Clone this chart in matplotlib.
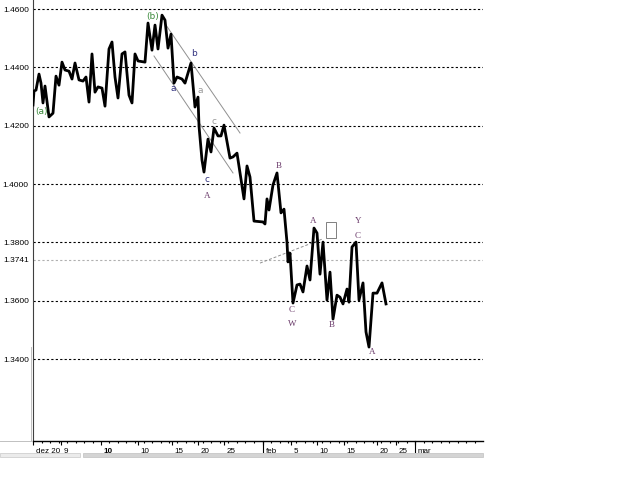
import numpy as np
import matplotlib
matplotlib.use('Agg')
import matplotlib.pyplot as plt
from matplotlib import transforms
from matplotlib.ticker import MultipleLocator
from matplotlib.patches import Rectangle

# price trace (x = bar position, y = price)
px = [0, 1, 3, 6, 8, 10, 12, 16, 20, 23,
      26, 29, 32, 36, 39, 42, 46, 50, 53, 56,
      59, 62, 65, 69, 72, 76, 79, 82, 85, 89,
      92, 96, 99, 102, 105, 112, 115, 119, 122, 125,
      129, 132, 135, 138, 141, 144, 149, 152, 158, 162,
      165, 166, 169, 171, 175, 178, 181, 185, 188, 191,
      197, 200, 204, 211, 214, 217, 221, 230, 232, 234,
      236, 240, 244, 248, 251, 254, 255, 257, 260, 264,
      267, 270, 274, 277, 281, 284, 287, 290, 294, 297,
      300, 304, 307, 310, 314, 316, 319, 323, 326, 330,
      333, 336, 340, 344, 349, 353]
price = [1.4271, 1.4319, 1.4322, 1.4377, 1.4346, 1.4278, 1.4336, 1.4230, 1.4243, 1.4370,
         1.4339, 1.4418, 1.4391, 1.4387, 1.4360, 1.4415, 1.4357, 1.4353, 1.4367, 1.4281,
         1.4446, 1.4315, 1.4333, 1.4329, 1.4267, 1.4463, 1.4487, 1.4367, 1.4295, 1.4446,
         1.4453, 1.4305, 1.4278, 1.4446, 1.4422, 1.4418, 1.4552, 1.4459, 1.4545, 1.4463,
         1.4579, 1.4562, 1.4466, 1.4514, 1.4346, 1.4367, 1.4360, 1.4346, 1.4415, 1.4264,
         1.4298, 1.4199, 1.4082, 1.4041, 1.4154, 1.4110, 1.4192, 1.4165, 1.4165, 1.4202,
         1.4089, 1.4093, 1.4106, 1.3949, 1.4062, 1.4024, 1.3873, 1.3870, 1.3863, 1.3949,
         1.3911, 1.3997, 1.4038, 1.3901, 1.3914, 1.3800, 1.3733, 1.3763, 1.3592, 1.3654,
         1.3657, 1.3630, 1.3719, 1.3671, 1.3849, 1.3832, 1.3691, 1.3801, 1.3602, 1.3698,
         1.3537, 1.3619, 1.3612, 1.3589, 1.3640, 1.3595, 1.3784, 1.3801, 1.3602, 1.3661,
         1.3493, 1.3441, 1.3626, 1.3626, 1.3661, 1.3589]

grid_levels = [1.46, 1.44, 1.42, 1.40, 1.38, 1.36, 1.34]
mark_level = 1.3741
ytick_vals = [1.46, 1.44, 1.42, 1.40, 1.38, 1.3741, 1.36, 1.34]

xtick_pos = [0, 28, 68, 105, 139, 165, 191, 258, 284, 311, 344, 363]
xtick_lab = ["dez 20", "9", "10", "10", "15", "20", "25", "5", "10", "15", "20", "25"]
month_pos = [230, 382]
month_lab = ["feb", "mar"]

# wave channel, guide line and box
chan_up_x, chan_up_y = [133, 207], [1.4545, 1.4175]
chan_lo_x, chan_lo_y = [121, 200], [1.4439, 1.4038]
guide_x, guide_y = [227, 289], [1.3729, 1.3811]
box_x, box_y = [293, 303], [1.3815, 1.3869]

# wave labels: (x, price, text, kind)
wave_labels = [(9, 1.4250, "(a)", "g"), (120, 1.4573, "(b)", "g"),
               (161, 1.4449, "b", "n"), (140, 1.4326, "a", "n"),
               (167, 1.4322, "a", "l"), (181, 1.4216, "c", "l"),
               (174, 1.4017, "c", "n"), (174, 1.3959, "A", "p"),
               (246, 1.4062, "B", "p"), (280, 1.3873, "A", "p"),
               (259, 1.3568, "C", "p"), (259, 1.3520, "W", "p"),
               (299, 1.3516, "B", "p"), (339, 1.3424, "A", "p"),
               (325, 1.3873, "Y", "p"), (325, 1.3822, "C", "p")]
kind_col = {"g": "#3a8a3a", "n": "#333380", "l": "#999999", "p": "#6a3a6a"}

fig = plt.figure(figsize=(6.25, 5), dpi=100)
ax = fig.add_axes([33/625., 59/500., 450/625., 441/500.])
ax.set_xlim(0, 450)
ax.set_ylim(1.3119, 1.4631)

for lv in grid_levels:
    ax.axhline(lv, color='k', lw=0.8, ls=(0, (2, 2)), zorder=1)
ax.axhline(mark_level, color='#b0b0b0', lw=0.8, ls=(0, (2, 2)), zorder=1)

ax.plot(chan_up_x, chan_up_y, color='#909090', lw=0.7, zorder=2)
ax.plot(chan_lo_x, chan_lo_y, color='#909090', lw=0.7, zorder=2)
ax.plot(guide_x, guide_y, color='#909090', lw=0.7, ls=(0, (3, 2)), zorder=2)
ax.add_patch(Rectangle((box_x[0], box_y[0]), box_x[1]-box_x[0], box_y[1]-box_y[0],
                       fill=False, ec='#808080', lw=0.7, zorder=2))

ax.plot(px, price, color='k', lw=2.0, zorder=3)

for x, y, t, k in wave_labels:
    fam = 'Liberation Serif' if k == 'p' else 'DejaVu Sans'
    ax.text(x, y, t, color=kind_col[k], fontsize=6.5, family=fam, ha='center', va='center', zorder=4)

for s in ['top', 'right']:
    ax.spines[s].set_visible(False)
ax.spines['left'].set_color('#404040')
ax.spines['left'].set_linewidth(0.8)
ax.spines['bottom'].set_linewidth(1.0)

ax.set_yticks(ytick_vals)
ax.set_yticklabels(["%.4f" % v for v in ytick_vals], family='Liberation Sans', fontsize=6)
ax.tick_params(axis='y', length=0, pad=3)

ax.set_xticks(xtick_pos + month_pos)
ax.set_xticklabels([])
ax.xaxis.set_minor_locator(MultipleLocator(8.5))
ax.tick_params(axis='x', which='major', length=3, width=0.8, direction='out')
ax.tick_params(axis='x', which='minor', length=1.5, width=0.8, direction='out')

lab_tr = transforms.offset_copy(ax.get_xaxis_transform(), fig=fig, x=2, y=-5, units='points')
for x, t in zip(xtick_pos, xtick_lab):
    w = 'bold' if (x == 68) else 'normal'
    ax.text(x, 0, t, transform=lab_tr, family='Liberation Sans', fontsize=5.8, weight=w,
            ha='left', va='top')
for x, t in zip(month_pos, month_lab):
    ax.plot([x, x], [0, -0.026], transform=ax.get_xaxis_transform(), color='k', lw=0.8, clip_on=False)
    ax.text(x, 0, t, transform=lab_tr, family='Liberation Sans', fontsize=5.8, ha='left', va='top')

# frame pieces and scrollbar under the chart
fig.add_artist(plt.Line2D([0, 31/625.], [59/500., 59/500.], color='#c0c0c0', lw=0.7))
fig.add_artist(plt.Line2D([31/625., 31/625.], [59/500., 153/500.], color='#c0c0c0', lw=0.7))
fig.add_artist(Rectangle((0, 43/500.), 80/625., 4/500., transform=fig.transFigure,
                         fc='#ebebeb', ec='#c8c8c8', lw=0.5))
fig.add_artist(Rectangle((83/625., 43/500.), 400/625., 4/500., transform=fig.transFigure,
                         fc='#d4d4d4', ec='#c0c0c0', lw=0.5))

plt.savefig('out.png', dpi=100)
